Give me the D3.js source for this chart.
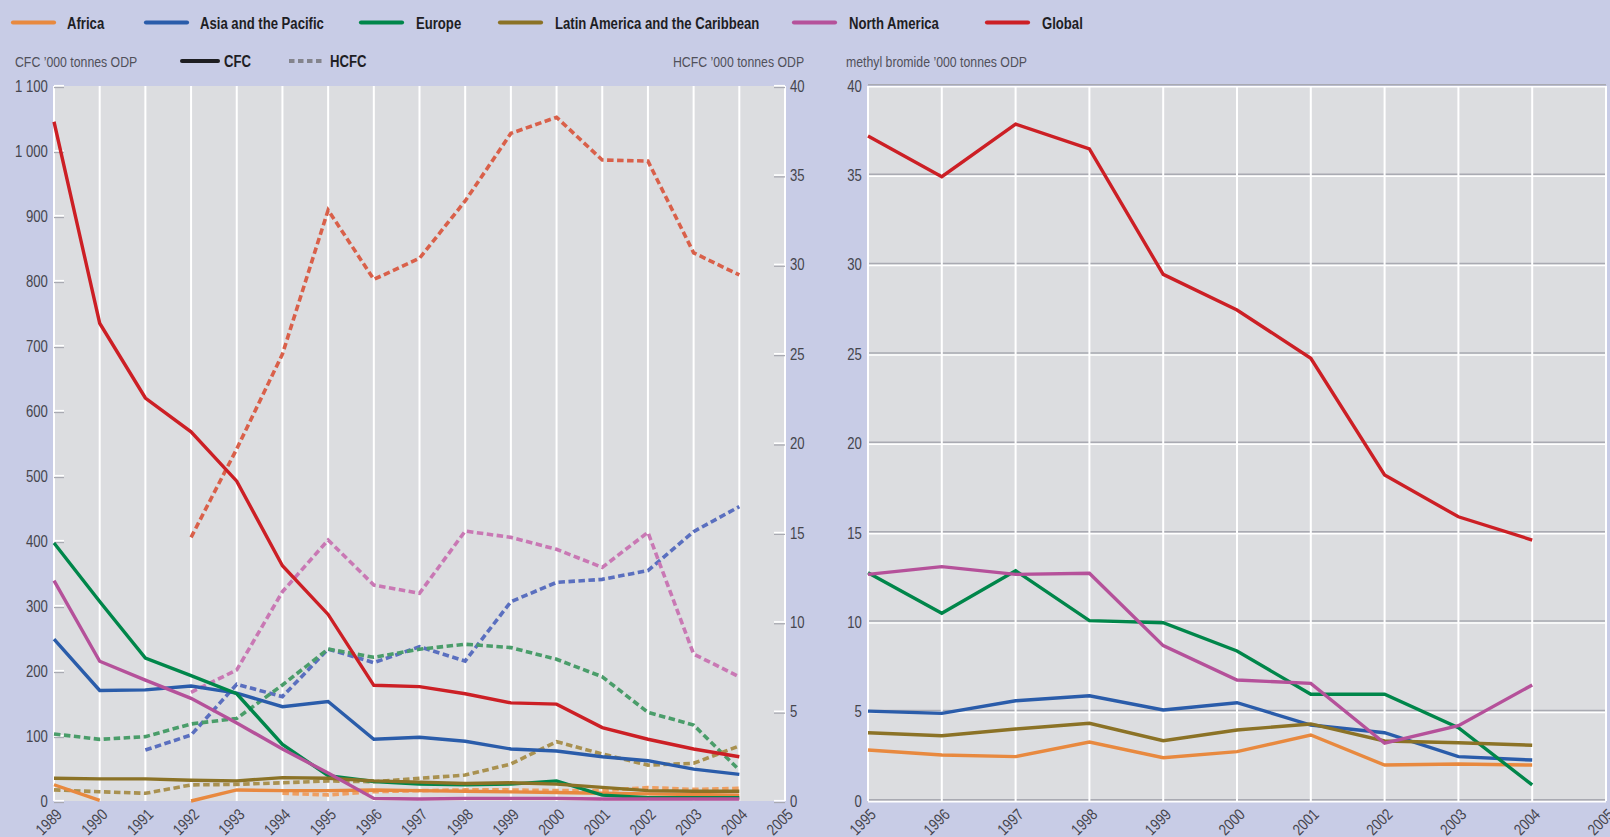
<!DOCTYPE html>
<html>
<head>
<meta charset="utf-8">
<script src="https://cdn.jsdelivr.net/npm/d3@7"></script>
<style>
  html, body { margin: 0; padding: 0; background: #c8cce6; }
  svg { display: block; }
  text { font-family: "Liberation Sans", Arial, sans-serif; }
</style>
</head>
<body>
<svg id="chart" width="1610" height="837"></svg>
<script>
// ---- data ------------------------------------------------------------
const regionNames = ["Africa", "Asia and the Pacific", "Europe",
  "Latin America and the Caribbean", "North America", "Global"];
const regionColors = ["#e8893f", "#2a5caa", "#00864a", "#8b7226", "#b5519a", "#cc1f25"];
const hcfcColors   = ["#ee9f62", "#5a6fbf", "#4a9d6a", "#a99150", "#c978b4", "#d9604a"];

const years = [1989, 1990, 1991, 1992, 1993, 1994, 1995, 1996, 1997, 1998, 1999, 2000, 2001, 2002, 2003, 2004];
const mbYears = [1995, 1996, 1997, 1998, 1999, 2000, 2001, 2002, 2003, 2004];

// CFC consumption, '000 tonnes ODP (left axis)
const cfcAfrica = [25, 1, null, 0, 17, 16, 16, 17, 16, 15, 14, 13, 12, 11, 10, 9];
const cfcAsia   = [249, 170, 171, 177, 166, 145, 153, 95, 98, 92, 80, 77, 68, 62, 49, 41];
const cfcEurope = [397, 307, 220, 193, 165, 87, 39, 30, 26, 25, 26, 31, 9, 5, 5, 5];
const cfcLatin  = [35, 34, 34, 32, 31, 36, 35, 31, 29, 27, 28, 26, 21, 16, 15, 15];
const cfcNorthAm = [339, 215, 186, 158, 120, 80, 43, 4, 3, 4, 4, 4, 3, 3, 3, 3];
const cfcGlobal = [1045, 735, 620, 568, 492, 362, 287, 178, 176, 165, 151, 149, 113, 95, 80, 68];

// HCFC consumption, '000 tonnes ODP (right axis)
const hcfcAfrica = [null, null, null, null, null, 0.43, 0.34, 0.52, 0.58, 0.62, 0.62, 0.58, 0.58, 0.75, 0.65, 0.71];
const hcfcAsia   = [null, null, 2.85, 3.69, 6.53, 5.84, 8.5, 7.74, 8.63, 7.83, 11.15, 12.23, 12.4, 12.89, 15.07, 16.47];
const hcfcEurope = [3.75, 3.45, 3.6, 4.31, 4.62, 6.49, 8.5, 8.04, 8.49, 8.77, 8.58, 7.93, 6.95, 4.96, 4.25, 1.73];
const hcfcLatin  = [0.62, 0.52, 0.43, 0.9, 0.93, 1.02, 1.12, 1.08, 1.27, 1.45, 2.07, 3.32, 2.63, 2.01, 2.11, 3.08];
const hcfcNorthAm = [null, null, null, 6.08, 7.33, 11.71, 14.6, 12.08, 11.62, 15.1, 14.75, 14.08, 13.07, 15.03, 8.22, 6.95];
const hcfcGlobal = [null, null, null, 14.75, 19.7, 25.0, 33.06, 29.18, 30.36, 33.57, 37.35, 38.25, 35.86, 35.8, 30.67, 29.43];

// Methyl bromide consumption, '000 tonnes ODP
const mbAfrica = [2.85, 2.57, 2.48, 3.3, 2.42, 2.76, 3.69, 2.01, 2.07, 2.01];
const mbAsia   = [5.03, 4.9, 5.61, 5.89, 5.09, 5.5, 4.25, 3.82, 2.48, 2.29];
const mbEurope = [12.77, 10.5, 12.88, 10.09, 9.97, 8.39, 5.97, 5.97, 4.1, 0.9];
const mbLatin  = [3.82, 3.65, 4.03, 4.35, 3.37, 3.97, 4.31, 3.36, 3.26, 3.12];
const mbNorthAm = [12.68, 13.11, 12.68, 12.74, 8.69, 6.77, 6.58, 3.23, 4.21, 6.49];
const mbGlobal = [37.2, 34.93, 37.87, 36.48, 29.46, 27.47, 24.77, 18.24, 15.9, 14.6];

// axis ticks
const cfcTicks  = [0, 100, 200, 300, 400, 500, 600, 700, 800, 900, 1000, 1100];
const hcfcTicks = [0, 5, 10, 15, 20, 25, 30, 35, 40];
const mbTicks   = [0, 5, 10, 15, 20, 25, 30, 35, 40];
const yearTicks = [1989, 1990, 1991, 1992, 1993, 1994, 1995, 1996, 1997, 1998, 1999, 2000, 2001, 2002, 2003, 2004, 2005];
const mbYearTicks = [1995, 1996, 1997, 1998, 1999, 2000, 2001, 2002, 2003, 2004, 2005];

const cfcSeries  = [cfcAfrica, cfcAsia, cfcEurope, cfcLatin, cfcNorthAm, cfcGlobal];
const hcfcSeries = [hcfcAfrica, hcfcAsia, hcfcEurope, hcfcLatin, hcfcNorthAm, hcfcGlobal];
const mbSeries   = [mbAfrica, mbAsia, mbEurope, mbLatin, mbNorthAm, mbGlobal];

// ---- layout ----------------------------------------------------------
const svg = d3.select("#chart");
const PLOT_BG = "#dcdde0";
const TICK_TEXT = "#45454d";
const GRID_SHADE = "#a9aab2";
const NARROW = 0.82;   // horizontal squeeze giving a condensed face

const left = { x0: 54, x1: 785, y0: 86, y1: 801 };
const right = { x0: 868, x1: 1606, y0: 86, y1: 801 };

const xL = d3.scaleLinear().domain([1989, 2005]).range([left.x0, left.x1]);
const yCfc = d3.scaleLinear().domain([0, 1100]).range([left.y1, left.y0]);
const yHcfc = d3.scaleLinear().domain([0, 40]).range([left.y1, left.y0]);
const xR = d3.scaleLinear().domain([1995, 2005]).range([right.x0, right.x1]);
const yMb = d3.scaleLinear().domain([0, 40]).range([right.y1, right.y0]);

const spaceFmt = d3.formatLocale({ decimal: ".", thousands: " ", grouping: [3], currency: ["", ""] }).format(",d");

// condensed text placed at (x, y)
function label(parent, x, y, str, size, bold, fill) {
  return parent.append("text")
    .attr("transform", `translate(${x},${y}) scale(${NARROW},1)`)
    .attr("fill", fill)
    .style("font-size", size + "px")
    .style("font-weight", bold ? "bold" : "normal")
    .text(str);
}

// ---- left panel: CFC / HCFC ------------------------------------------
const gL = svg.append("g");
gL.append("rect")
  .attr("x", left.x0).attr("y", left.y0)
  .attr("width", left.x1 - left.x0).attr("height", left.y1 - left.y0)
  .attr("fill", PLOT_BG);

gL.append("g").selectAll("line").data(yearTicks).join("line")
  .attr("x1", d => xL(d)).attr("x2", d => xL(d))
  .attr("y1", left.y0).attr("y2", left.y1)
  .attr("stroke", "#ffffff").attr("stroke-width", 2);

// left axis ticks (white with grey shade)
const tickL = gL.append("g").selectAll("g").data(cfcTicks).join("g");
tickL.append("line").attr("x1", left.x0).attr("x2", left.x0 + 10)
  .attr("y1", d => yCfc(d) + 1.5).attr("y2", d => yCfc(d) + 1.5)
  .attr("stroke", GRID_SHADE).attr("stroke-width", 1.3);
tickL.append("line").attr("x1", left.x0).attr("x2", left.x0 + 10)
  .attr("y1", d => yCfc(d) - 0.3).attr("y2", d => yCfc(d) - 0.3)
  .attr("stroke", "#ffffff").attr("stroke-width", 1.6);

// right axis ticks
const tickR = gL.append("g").selectAll("g").data(hcfcTicks).join("g");
tickR.append("line").attr("x1", left.x1 - 11).attr("x2", left.x1)
  .attr("y1", d => yHcfc(d) + 1.5).attr("y2", d => yHcfc(d) + 1.5)
  .attr("stroke", GRID_SHADE).attr("stroke-width", 1.3);
tickR.append("line").attr("x1", left.x1 - 11).attr("x2", left.x1)
  .attr("y1", d => yHcfc(d) - 0.3).attr("y2", d => yHcfc(d) - 0.3)
  .attr("stroke", "#ffffff").attr("stroke-width", 1.6);

// axis labels via d3 axes (lines hidden, text kept)
const axL = gL.append("g").attr("transform", `translate(${left.x0},0)`)
  .call(d3.axisLeft(yCfc).tickValues(cfcTicks).tickFormat(spaceFmt).tickSize(0).tickPadding(7.5));
const axR = gL.append("g").attr("transform", `translate(${left.x1},0)`)
  .call(d3.axisRight(yHcfc).tickValues(hcfcTicks).tickFormat(d3.format("d")).tickSize(0).tickPadding(6));
const axB = gL.append("g").attr("transform", `translate(0,${left.y1})`)
  .call(d3.axisBottom(xL).tickValues(yearTicks).tickFormat(d3.format("d")).tickSize(0));

// methyl bromide panel
const gR = svg.append("g");
gR.append("rect")
  .attr("x", right.x0).attr("y", right.y0)
  .attr("width", right.x1 - right.x0).attr("height", right.y1 - right.y0)
  .attr("fill", PLOT_BG);
gR.append("g").selectAll("line").data(mbTicks).join("line")
  .attr("x1", right.x0).attr("x2", right.x1)
  .attr("y1", d => yMb(d) - 1.2).attr("y2", d => yMb(d) - 1.2)
  .attr("stroke", GRID_SHADE).attr("stroke-width", 1.5);
gR.append("g").selectAll("line").data(mbTicks).join("line")
  .attr("x1", right.x0).attr("x2", right.x1)
  .attr("y1", d => yMb(d) + 0.8).attr("y2", d => yMb(d) + 0.8)
  .attr("stroke", "#ffffff").attr("stroke-width", 1.6);
gR.append("g").selectAll("line").data(mbYearTicks).join("line")
  .attr("x1", d => xR(d)).attr("x2", d => xR(d))
  .attr("y1", right.y0).attr("y2", right.y1)
  .attr("stroke", "#ffffff").attr("stroke-width", 2);

const axML = gR.append("g").attr("transform", `translate(${right.x0},0)`)
  .call(d3.axisLeft(yMb).tickValues(mbTicks).tickFormat(d3.format("d")).tickSize(0).tickPadding(7.5));
const axMB = gR.append("g").attr("transform", `translate(0,${right.y1})`)
  .call(d3.axisBottom(xR).tickValues(mbYearTicks).tickFormat(d3.format("d")).tickSize(0));

// common axis text styling
[axL, axR, axB, axML, axMB].forEach(ax => {
  ax.select(".domain").remove();
  ax.selectAll("text")
    .attr("fill", TICK_TEXT)
    .style("font-size", "16px")
    .style("font-family", "'Liberation Sans', Arial, sans-serif");
});
[axL, axR, axML].forEach(ax => {
  ax.selectAll("text").attr("transform", `scale(${NARROW},1)`);
});
[axB, axMB].forEach(ax => {
  ax.selectAll("text")
    .attr("text-anchor", "end")
    .attr("dy", 0).attr("y", 0)
    .attr("transform", `translate(8.5,14.5) rotate(-45) scale(${NARROW},1)`);
});

// ---- lines -----------------------------------------------------------
const lineCfc = d3.line().defined(d => d.v !== null).x(d => xL(d.year)).y(d => yCfc(d.v));
const lineHcfc = d3.line().defined(d => d.v !== null).x(d => xL(d.year)).y(d => yHcfc(d.v));
const lineMb = d3.line().x(d => xR(d.year)).y(d => yMb(d.v));

const pair = (yrs, vals) => yrs.map((year, i) => ({ year, v: vals[i] }));

gL.append("g").selectAll("path").data(hcfcSeries).join("path")
  .attr("d", (s) => lineHcfc(pair(years, s)))
  .attr("fill", "none")
  .attr("stroke", (s, i) => hcfcColors[i])
  .attr("stroke-width", 3.6)
  .attr("stroke-dasharray", "6.5,3.5");

gL.append("g").selectAll("path").data(cfcSeries).join("path")
  .attr("d", (s) => lineCfc(pair(years, s)))
  .attr("fill", "none")
  .attr("stroke", (s, i) => regionColors[i])
  .attr("stroke-width", 3.4)
  .attr("stroke-linejoin", "miter");

gR.append("g").selectAll("path").data(mbSeries).join("path")
  .attr("d", (s) => lineMb(pair(mbYears, s)))
  .attr("fill", "none")
  .attr("stroke", (s, i) => regionColors[i])
  .attr("stroke-width", 3.4);

// ---- legend ----------------------------------------------------------
const legendX = [13, 146, 361, 500, 794, 987];
const legendTextX = [67, 200, 416, 555, 849, 1042];
const leg = svg.append("g");
regionNames.forEach((name, i) => {
  leg.append("line")
    .attr("x1", legendX[i]).attr("x2", legendX[i] + 41)
    .attr("y1", 22.5).attr("y2", 22.5)
    .attr("stroke", regionColors[i]).attr("stroke-width", 4.2)
    .attr("stroke-linecap", "round");
  label(leg, legendTextX[i], 28.5, name, 16, true, "#1e1e24");
});

// line style key and axis titles
const sub = svg.append("g");
label(sub, 15, 66.5, "CFC \u2019000 tonnes ODP", 15, false, "#50505a");
sub.append("line").attr("x1", 182).attr("x2", 218).attr("y1", 61).attr("y2", 61)
  .attr("stroke", "#1e1e22").attr("stroke-width", 4).attr("stroke-linecap", "round");
label(sub, 224, 66.5, "CFC", 16, true, "#1e1e24");
sub.append("line").attr("x1", 289).attr("x2", 324).attr("y1", 61).attr("y2", 61)
  .attr("stroke", "#84848c").attr("stroke-width", 4).attr("stroke-dasharray", "5.5,3.5");
label(sub, 330, 66.5, "HCFC", 16, true, "#1e1e24");
label(sub, 673, 66.5, "HCFC \u2019000 tonnes ODP", 15, false, "#50505a");
label(sub, 846, 66.5, "methyl bromide \u2019000 tonnes ODP", 15, false, "#50505a");
</script>
</body>
</html>
